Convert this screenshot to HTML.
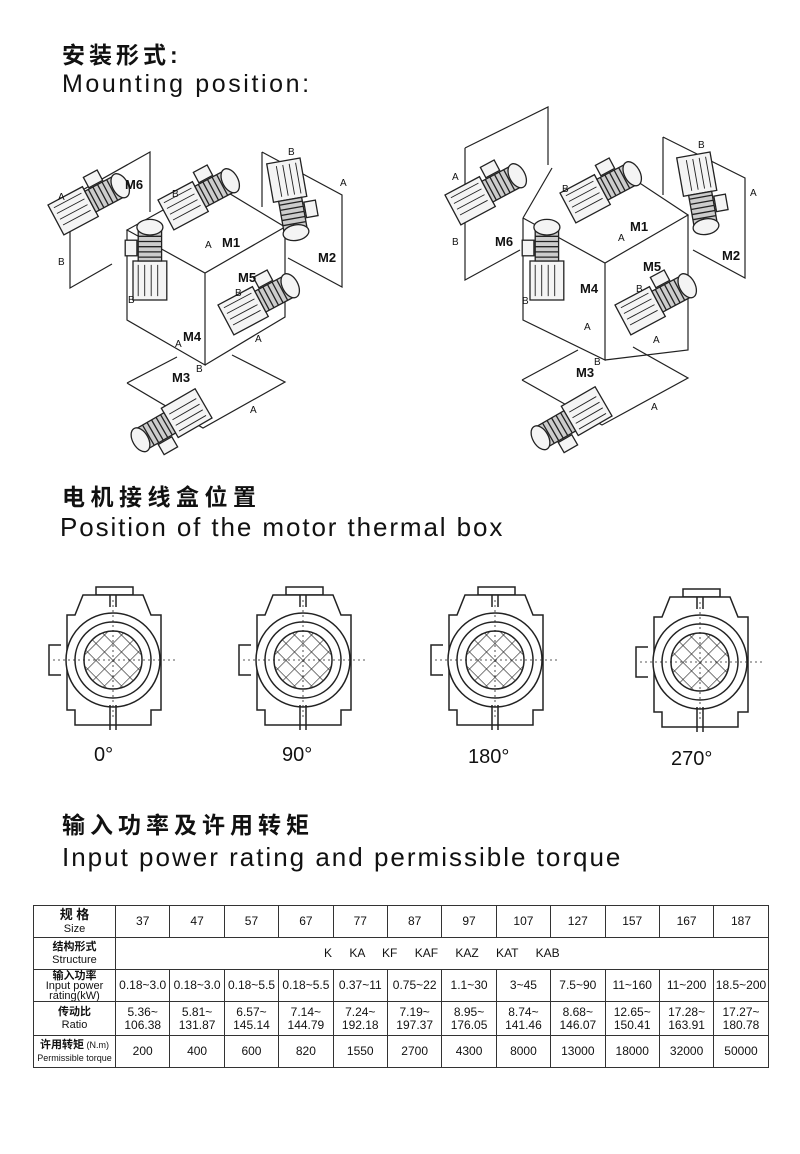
<!DOCTYPE html>
<html><head><meta charset="utf-8"><style>
html,body{margin:0;padding:0;background:#fff;}
body{width:800px;height:1154px;position:relative;overflow:hidden;font-family:"Liberation Sans","Noto Sans CJK SC",sans-serif;color:#111;}
.t{position:absolute;white-space:nowrap;}
table{position:absolute;left:33px;top:905px;border-collapse:collapse;font-size:12px;table-layout:fixed;width:735px;}
td{border:1px solid #333;text-align:center;padding:0;height:31px;line-height:13px;overflow:hidden;white-space:nowrap;}
td.h{font-size:11px;}
</style></head><body>
<div class="t" style="left:62px;top:36px;font-size:23px;font-weight:bold;letter-spacing:4px;">安装形式:</div>
<div class="t" style="left:62px;top:70px;font-size:25px;letter-spacing:2.6px;">Mounting position:</div>
<div class="t" style="left:62px;top:478px;font-size:23px;font-weight:bold;letter-spacing:5.5px;">电机接线盒位置</div>
<div class="t" style="left:60px;top:512px;font-size:26px;letter-spacing:1.9px;">Position of the motor thermal box</div>
<div class="t" style="left:62px;top:806px;font-size:23px;font-weight:bold;letter-spacing:5px;">输入功率及许用转矩</div>
<div class="t" style="left:62px;top:842px;font-size:26px;letter-spacing:2px;">Input power rating and permissible torque</div>
<div class="t" style="left:94px;top:744px;font-size:20px;">0°</div>
<div class="t" style="left:282px;top:744px;font-size:20px;">90°</div>
<div class="t" style="left:468px;top:746px;font-size:20px;">180°</div>
<div class="t" style="left:671px;top:748px;font-size:20px;">270°</div>

<svg width="800" height="1154" style="position:absolute;left:0;top:0" xmlns="http://www.w3.org/2000/svg">
<defs>
<g id="motor" stroke="#222" stroke-width="1" fill="#f4f4f4">
<rect x="0" y="0" width="30" height="26"/>
<path d="M3 4h24M3 9h24M3 14h24M3 19h24" stroke-width="0.7"/>
<rect x="30" y="4" width="26" height="18" fill="#ccc"/>
<path d="M33 4v18M37 4v18M41 4v18M45 4v18M49 4v18" />
<ellipse cx="56" cy="13" rx="6" ry="10"/>
<rect x="34" y="-6" width="12" height="9"/>
</g>
<pattern id="hatch" width="12" height="12" patternUnits="userSpaceOnUse" patternTransform="rotate(45)">
<path d="M0 0V12M0 0H12" stroke="#222" stroke-width="1.2"/>
</pattern>
<g id="tb" stroke="#222" stroke-width="1.5" fill="#fff">
<path d="M-17 -73h37v8h-37z"/>
<path d="M-30 -65h60l8 20h10v95h-10v15h-76v-15h-8v-95h8z"/>
<circle r="47"/><circle r="38"/>
<circle r="29" fill="url(#hatch)"/>
<path d="M-52 -15h-12v30h12" />
<path d="M-3 -65v12M3 -65v12M-3 45v25M3 45v25"/>
<path d="M-60 0H62M0 -60V60" stroke-dasharray="2 3" stroke-width="0.8"/>
</g>
</defs>
<g fill="none" stroke="#222" stroke-width="1.2">
<path d="M127 230L212 183L285 227L205 273Z M127 230V320L205 365V273 M285 227V317L205 365"/>
<path d="M70 197L150 152V212 M70 197V288L112 264 M262 152L342 195V287L288 258 M262 152V207 M127 383L177 357 M232 355L285 382L203 428L127 383"/>
<path d="M523 218L552 168 M523 218L605 263L688 215L620 170 M523 218V320L605 360V263 M688 215V350L605 360"/>
<path d="M465 148L548 107V165 M465 148V280L520 250 M663 137L745 178V278L693 250 M663 137V195 M522 380L578 350 M633 347L688 378L602 425L522 380"/>
</g>
<use href="#motor" transform="translate(48,205) rotate(-28) scale(1.3)"/>
<use href="#motor" transform="translate(158,200) rotate(-28) scale(1.3)"/>
<use href="#motor" transform="translate(300,158) rotate(80) scale(1.3)"/>
<use href="#motor" transform="translate(133,300) rotate(-90) scale(1.3)"/>
<use href="#motor" transform="translate(218,305) rotate(-28) scale(1.3)"/>
<use href="#motor" transform="translate(212,418) rotate(150) scale(1.3)"/>
<use href="#motor" transform="translate(445,195) rotate(-28) scale(1.3)"/>
<use href="#motor" transform="translate(560,193) rotate(-28) scale(1.3)"/>
<use href="#motor" transform="translate(710,152) rotate(80) scale(1.3)"/>
<use href="#motor" transform="translate(530,300) rotate(-90) scale(1.3)"/>
<use href="#motor" transform="translate(615,305) rotate(-28) scale(1.3)"/>
<use href="#motor" transform="translate(612,416) rotate(150) scale(1.3)"/>
<g font-family="Liberation Sans" font-size="10" fill="#111">
<text x="58" y="200">A</text><text x="58" y="265">B</text><text x="172" y="197">B</text><text x="205" y="248">A</text>
<text x="288" y="155">B</text><text x="340" y="186">A</text><text x="128" y="303">B</text><text x="175" y="347">A</text>
<text x="235" y="296">B</text><text x="255" y="342">A</text><text x="196" y="372">B</text><text x="250" y="413">A</text>
<text x="452" y="180">A</text><text x="452" y="245">B</text><text x="562" y="192">B</text><text x="618" y="241">A</text>
<text x="698" y="148">B</text><text x="750" y="196">A</text><text x="522" y="304">B</text><text x="584" y="330">A</text>
<text x="636" y="292">B</text><text x="653" y="343">A</text><text x="594" y="365">B</text><text x="651" y="410">A</text>
</g>
<g font-family="Liberation Sans" font-size="13" font-weight="bold" fill="#111">
<text x="125" y="189">M6</text><text x="222" y="247">M1</text><text x="318" y="262">M2</text>
<text x="238" y="282">M5</text><text x="183" y="341">M4</text><text x="172" y="382">M3</text>
<text x="495" y="246">M6</text><text x="630" y="231">M1</text><text x="722" y="260">M2</text>
<text x="643" y="271">M5</text><text x="580" y="293">M4</text><text x="576" y="377">M3</text>
</g>
<use href="#tb" transform="translate(113,660)"/>
<use href="#tb" transform="translate(303,660)"/>
<use href="#tb" transform="translate(495,660)"/>
<use href="#tb" transform="translate(700,662)"/>
</svg>

<table>
<colgroup><col style="width:82px"><col span="12" style="width:54.4px"></colgroup>
<tr><td class="h"><b style="font-size:13px">规 格</b><br>Size</td><td>37</td><td>47</td><td>57</td><td>67</td><td>77</td><td>87</td><td>97</td><td>107</td><td>127</td><td>157</td><td>167</td><td>187</td></tr>
<tr><td class="h"><b>结构形式</b><br>Structure</td><td colspan="12" style="word-spacing:14px">K KA KF KAF KAZ KAT KAB</td></tr>
<tr><td class="h" style="line-height:10px"><b>输入功率</b><br>Input power<br>rating(kW)</td><td>0.18~3.0</td><td>0.18~3.0</td><td>0.18~5.5</td><td>0.18~5.5</td><td>0.37~11</td><td>0.75~22</td><td>1.1~30</td><td>3~45</td><td>7.5~90</td><td>11~160</td><td>11~200</td><td>18.5~200</td></tr>
<tr><td class="h" style="height:33px"><b>传动比</b><br>Ratio</td><td>5.36~<br>106.38</td><td>5.81~<br>131.87</td><td>6.57~<br>145.14</td><td>7.14~<br>144.79</td><td>7.24~<br>192.18</td><td>7.19~<br>197.37</td><td>8.95~<br>176.05</td><td>8.74~<br>141.46</td><td>8.68~<br>146.07</td><td>12.65~<br>150.41</td><td>17.28~<br>163.91</td><td>17.27~<br>180.78</td></tr>
<tr><td class="h" style="font-size:9px"><b style="font-size:11px">许用转矩</b> (N.m)<br>Permissible torque</td><td>200</td><td>400</td><td>600</td><td>820</td><td>1550</td><td>2700</td><td>4300</td><td>8000</td><td>13000</td><td>18000</td><td>32000</td><td>50000</td></tr>
</table>
</body></html>
